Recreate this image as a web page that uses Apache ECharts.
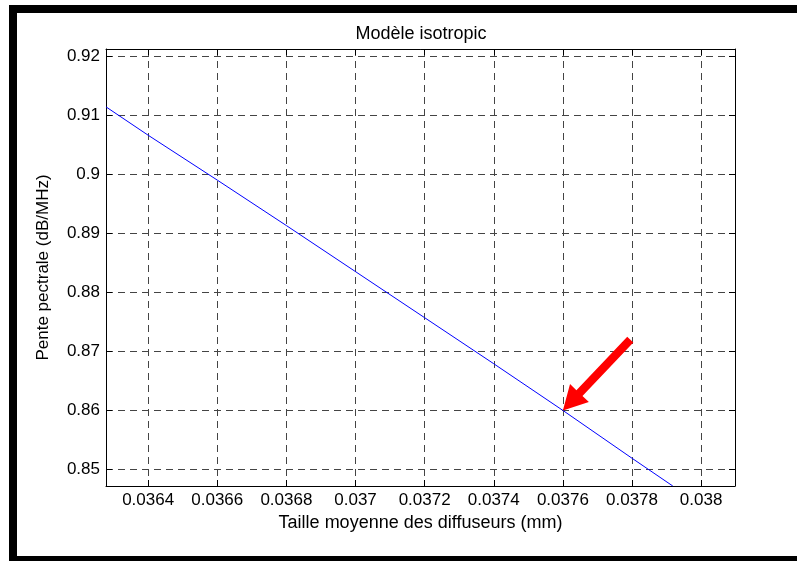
<!DOCTYPE html>
<html>
<head>
<meta charset="utf-8">
<script src="https://cdn.jsdelivr.net/npm/echarts@6/dist/echarts.min.js"></script>
<style>
  html, body { margin: 0; padding: 0; background: #fff; }
  #chart { width: 797px; height: 561px; }
</style>
</head>
<body>
<div id="chart"></div>
<script>
// Mean scatterer size (mm) and the resulting spectral slope (dB/MHz)
const sizes  = [0.036278, 0.0364, 0.0366, 0.0368, 0.0370, 0.0372, 0.0374, 0.0376, 0.0378, 0.037918];
const slopes = [0.9114,   0.9066, 0.8990, 0.8913, 0.8835, 0.8757, 0.8679, 0.8600, 0.8519, 0.8472];

// Axis extents and tick steps
const xRange = [0.036278, 0.038098];
const yRange = [0.8472, 0.9212];
const xStep = 0.0002;
const yStep = 0.01;

// Annotation arrow: from its tail to the highlighted point on the curve
const arrowTail = [0.037795, 0.87198];
const arrowTip  = [0.0376, 0.8600];

const FONT = '"Liberation Sans", Arial, Helvetica, sans-serif';

function tickFormatter(step) {
  return function (v) {
    const k = v / step;
    if (Math.abs(k - Math.round(k)) > 1e-6) return '';
    return String(parseFloat(v.toPrecision(6)));
  };
}

const chart = echarts.init(document.getElementById('chart'), null, { renderer: 'canvas' });

const gridLine = { show: true, lineStyle: { type: [7, 5], color: '#444', width: 1 } };
const axisLineStyle = { show: true, onZero: false, lineStyle: { color: '#000', width: 1 } };
const tickStyle = { show: true, inside: true, length: 6, lineStyle: { color: '#000', width: 1 } };

chart.setOption({
  animation: false,
  backgroundColor: '#fff',
  textStyle: { fontFamily: FONT, color: '#000' },
  title: {
    text: 'Modèle isotropic',
    left: 416,
    textAlign: 'center',
    top: 20,
    textStyle: { fontFamily: FONT, fontSize: 18, fontWeight: 'normal', color: '#000' }
  },
  grid: { left: 106, top: 49, right: 62, bottom: 75, containLabel: false },
  xAxis: [
    {
      type: 'value', position: 'bottom',
      min: xRange[0], max: xRange[1],
      minInterval: xStep, maxInterval: xStep, splitNumber: 9,
      axisLine: axisLineStyle, axisTick: tickStyle, splitLine: gridLine,
      axisLabel: { formatter: tickFormatter(xStep), fontSize: 17, color: '#000', margin: 6, fontFamily: FONT },
      name: 'Taille moyenne des diffuseurs (mm)',
      nameLocation: 'middle', nameGap: 24,
      nameTextStyle: { fontSize: 18, color: '#000', fontFamily: FONT }
    },
    {
      type: 'value', position: 'top',
      min: xRange[0], max: xRange[1],
      minInterval: xStep, maxInterval: xStep, splitNumber: 9,
      axisLine: axisLineStyle, axisTick: tickStyle,
      splitLine: { show: false }, axisLabel: { show: false }
    }
  ],
  yAxis: [
    {
      type: 'value', position: 'left',
      min: yRange[0], max: yRange[1],
      minInterval: yStep, maxInterval: yStep, splitNumber: 7,
      axisLine: axisLineStyle, axisTick: tickStyle, splitLine: gridLine,
      axisLabel: { formatter: tickFormatter(yStep), fontSize: 17, color: '#000', margin: 6, fontFamily: FONT },
      name: 'Pente pectrale (dB/MHz)',
      nameLocation: 'middle', nameGap: 54, nameRotate: 90,
      nameTextStyle: { fontSize: 17, color: '#000', fontFamily: FONT }
    },
    {
      type: 'value', position: 'right',
      min: yRange[0], max: yRange[1],
      minInterval: yStep, maxInterval: yStep, splitNumber: 7,
      axisLine: axisLineStyle, axisTick: tickStyle,
      splitLine: { show: false }, axisLabel: { show: false }
    }
  ],
  series: [{
    type: 'line',
    xAxisIndex: 0, yAxisIndex: 0,
    data: sizes.map((s, i) => [s, slopes[i]]),
    showSymbol: false, symbol: 'none',
    clip: true,
    lineStyle: { color: '#0000ff', width: 1 },
    z: 3
  }],
  graphic: [
    // figure frame (top, left, bottom)
    { id: 'frameTop', type: 'rect', shape: { x: 9, y: 5, width: 788, height: 8 }, style: { fill: '#000' }, z: 100 },
    { id: 'frameLeft', type: 'rect', shape: { x: 9, y: 5, width: 8, height: 556 }, style: { fill: '#000' }, z: 100 },
    { id: 'frameBottom', type: 'rect', shape: { x: 9, y: 556, width: 788, height: 5 }, style: { fill: '#000' }, z: 100 }
  ]
});

// Arrow shape built in pixel space from the data coordinates of its ends
const S = chart.convertToPixel({ gridIndex: 0 }, arrowTail);
const T = chart.convertToPixel({ gridIndex: 0 }, arrowTip);
const dx = T[0] - S[0], dy = T[1] - S[1];
const len = Math.hypot(dx, dy);
const d = [dx / len, dy / len];
const n = [-d[1], d[0]];
const headLen = 24, headHalf = 13, shaftHalf = 4.2;
const B = [T[0] - d[0] * headLen, T[1] - d[1] * headLen];
const pt = (p, k) => [p[0] + n[0] * k, p[1] + n[1] * k];
chart.setOption({
  graphic: [{
    id: 'arrow', type: 'polygon',
    shape: { points: [pt(S, shaftHalf), pt(B, shaftHalf), pt(B, headHalf), T, pt(B, -headHalf), pt(B, -shaftHalf), pt(S, -shaftHalf)] },
    style: { fill: '#ff0000' },
    z: 50
  }]
});
</script>
</body>
</html>
